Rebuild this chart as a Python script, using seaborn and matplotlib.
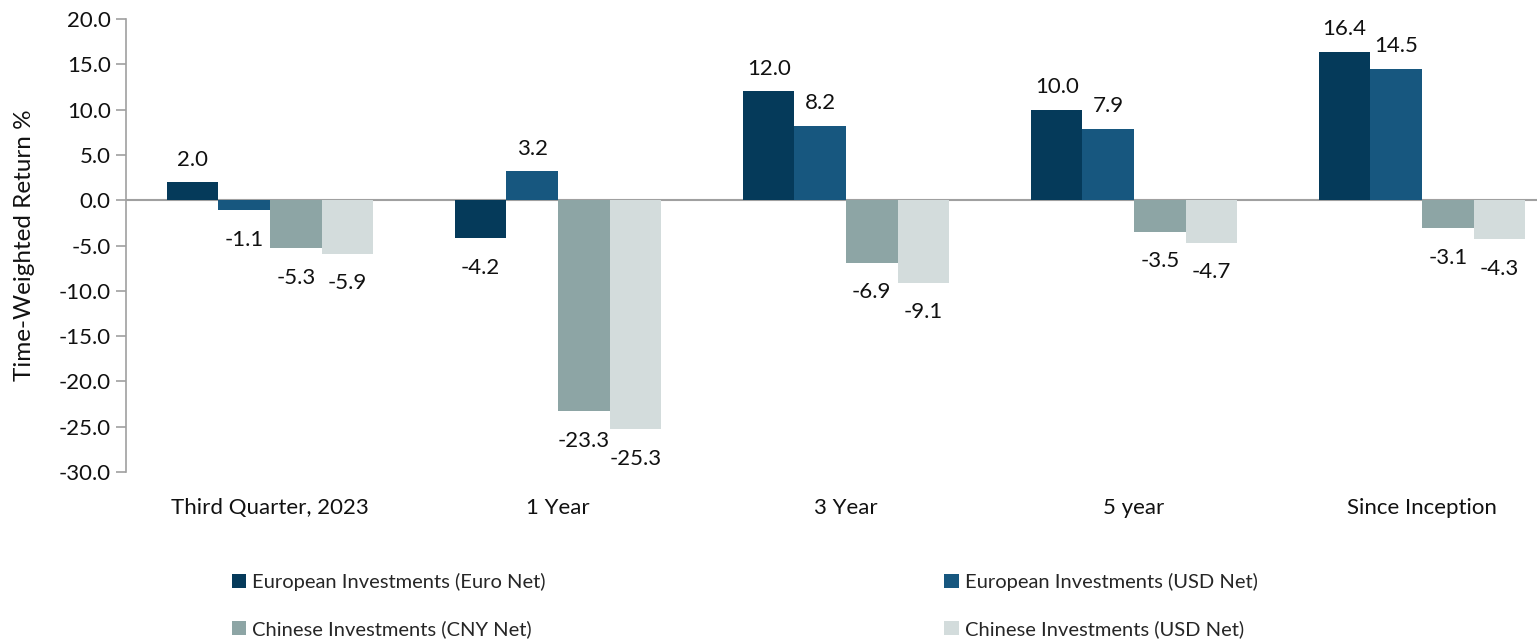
import pandas as pd
import matplotlib
matplotlib.use("Agg")
import matplotlib.pyplot as plt
import seaborn as sns

# Dados do gráfico
periodos = ["Third Quarter, 2023", "1 Year", "3 Year", "5 year", "Since Inception"]
series = ["European Investments (Euro Net)", "European Investments (USD Net)",
          "Chinese Investments (CNY Net)", "Chinese Investments (USD Net)"]
euro_net = [2.0, -4.2, 12.0, 10.0, 16.4]
euro_usd = [-1.1, 3.2, 8.2, 7.9, 14.5]
cny_net = [-5.3, -23.3, -6.9, -3.5, -3.1]
cny_usd = [-5.9, -25.3, -9.1, -4.7, -4.3]
cores = ["#053a5a", "#17577f", "#8da5a5", "#d3dcdc"]

df = pd.DataFrame({
    "Periodo": periodos * 4,
    "Serie": [s for s in series for _ in periodos],
    "Retorno": euro_net + euro_usd + cny_net + cny_usd,
})

sns.set_theme(style="white")
plt.rcParams["font.family"] = ["Lato", "DejaVu Sans"]

fig = plt.figure(figsize=(15.37, 6.4), dpi=100)
ax = fig.add_axes([126 / 1537, 1 - 472 / 640, 1 - 126 / 1537, (472 - 19) / 640])

sns.barplot(data=df, x="Periodo", y="Retorno", hue="Serie", palette=cores,
            width=0.716, saturation=1, gap=0, linewidth=0, ax=ax, errorbar=None)

# rótulos: positivos acima, negativos abaixo
for c in ax.containers:
    vals = c.datavalues
    pos = [f"{v:.1f}" if v >= 0 else "" for v in vals]
    neg = [f"{v:.1f}" if v < 0 else "" for v in vals]
    ax.bar_label(c, labels=pos, padding=9, fontsize=16, color="#111111")
    ax.bar_label(c, labels=neg, padding=14, fontsize=16, color="#111111")

ax.set_ylim(-30, 20)
ax.set_yticks(range(-30, 21, 5))
ax.set_yticklabels([f"{v:.1f}" for v in range(-30, 21, 5)], fontsize=16, color="#111111")
ax.set_xlim(-0.5, (1537 - 126) / 288 - 0.5)
ax.set_xticks(range(len(periodos)))
ax.set_xticklabels(periodos, fontsize=16, color="#111111")
ax.tick_params(axis="x", length=0, pad=19)
ax.tick_params(axis="y", length=7, width=1.2, color="#a0a0a0", left=True, pad=4)
ax.set_xlabel("")
ax.set_ylabel("Time-Weighted Return %", fontsize=17.5, color="#111111", labelpad=17)

for s in ["top", "right", "bottom"]:
    ax.spines[s].set_visible(False)
ax.spines["left"].set_color("#a0a0a0")
ax.spines["left"].set_linewidth(1.2)
ax.axhline(0, color="#a0a0a0", linewidth=1.5, zorder=0.5)

handles, labels = ax.get_legend_handles_labels()
ax.get_legend().remove()
ordem = [0, 2, 1, 3]
fig.legend([handles[i] for i in ordem], [labels[i] for i in ordem], ncol=2,
           loc="upper left", bbox_to_anchor=(222 / 1537, 1 - 563 / 640),
           frameon=False, fontsize=14.5, handlelength=0.7, handleheight=0.7,
           handletextpad=0.3, columnspacing=19.8, labelspacing=1.45, borderpad=0)

plt.savefig("out.png", dpi=100)
